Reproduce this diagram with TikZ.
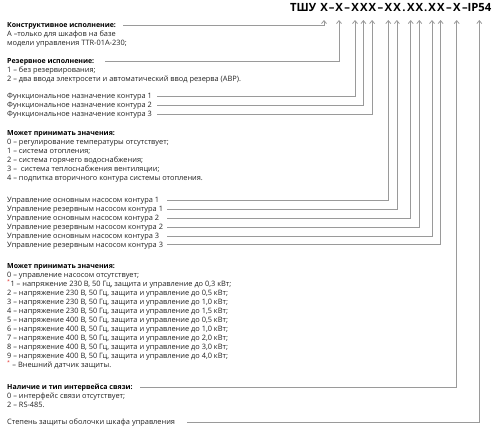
\documentclass[tikz,border=0pt]{standalone}
\usepackage{fontspec}
\setmainfont{Open Sans}
\usetikzlibrary{arrows.meta}
\definecolor{ln}{HTML}{9A9A9A}
\definecolor{tx}{HTML}{222222}
\definecolor{ast}{HTML}{E53935}
\newcommand\cbx[2]{\makebox[#1pt]{#2}}
\newcommand\rast{{\color{ast}\textsuperscript{*}}}
\begin{document}
\begin{tikzpicture}[x=1pt,y=-1pt,
 lbl/.style={anchor=base west,inner sep=0,font=\fontsize{7.4}{9}\selectfont,text=tx},
 hdr/.style={anchor=base west,inner sep=0,font=\fontsize{7.0}{9}\selectfont\bfseries,text=black},
 conn/.style={draw=ln,line width=0.8pt,-{Straight Barb[length=3pt,width=5pt]}}]
\useasboundingbox (0,0) rectangle (500,429);

% title
\node[anchor=base west,inner sep=0,font=\fontsize{11.3}{13}\selectfont\bfseries,text=black] (title) at (290,11.5)
 {\makebox[29.7pt][l]{ТШУ}\cbx{8.6}{X}\cbx{6.4}{–}\cbx{8.6}{X}\cbx{7.4}{–}\cbx{8.6}{X}\cbx{8.6}{X}\cbx{8.6}{X}\cbx{7.5}{–}\cbx{8.6}{X}\cbx{8.6}{X}\cbx{5.2}{.}\cbx{8.6}{X}\cbx{8.6}{X}\cbx{4.1}{.}\cbx{8.6}{X}\cbx{8.6}{X}\cbx{7.5}{–}\cbx{8.6}{X}\cbx{7.5}{–}\cbx{21.6}{IP54}};

% texts
\node[hdr] (h1) at (7,27.5) {Конструктивное исполнение:};
\node[lbl] (a1) at (7,36.6) {А –только для шкафов на базе};
\node[lbl] (a2) at (7,45.6) {модели управления TTR-01A-230;};

\node[hdr] (h2) at (7,63.5) {Резервное исполнение:};
\node[lbl] (b1) at (7,72.6) {1 – без резервирования;};
\node[lbl] (b2) at (7,81.6) {2 – два ввода электросети и автоматический ввод резерва (АВР).};

\node[lbl] (f1) at (7,98.6) {Функциональное назначение контура 1};
\node[lbl] (f2) at (7,107.6) {Функциональное назначение контура 2};
\node[lbl] (f3) at (7,116.6) {Функциональное назначение контура 3};

\node[hdr] (h3) at (7,135.0) {Может принимать значения:};
\node[lbl] (c0) at (7,144.1) {0 – регулирование температуры отсутствует;};
\node[lbl] (c1) at (7,153.1) {1 – система отопления;};
\node[lbl] (c2) at (7,162.1) {2 – система горячего водоснабжения;};
\node[lbl] (c3) at (7,171.1) {3 –\ \ система теплоснабжения вентиляции;};
\node[lbl] (c4) at (7,180.1) {4 – подпитка вторичного контура системы отопления.};

\node[lbl] (u1) at (7,202.6) {Управление основным насосом контура 1};
\node[lbl] (u2) at (7,211.6) {Управление резервным насосом контура 1};
\node[lbl] (u3) at (7,220.6) {Управление основным насосом контура 2};
\node[lbl] (u4) at (7,229.6) {Управление резервным насосом контура 2};
\node[lbl] (u5) at (7,238.6) {Управление основным насосом контура 3};
\node[lbl] (u6) at (7,247.1) {Управление резервным насосом контура 3};

\node[hdr] (h4) at (7,268.5) {Может принимать значения:};
\node[lbl] (p0) at (7,277.6) {0 – управление насосом отсутствует;};
\node[lbl] (p1) at (7,286.6) {\rast1 – напряжение 230 В, 50 Гц, защита и управление до 0,3 кВт;};
\node[lbl] (p2) at (7,295.6) {2 – напряжение 230 В, 50 Гц, защита и управление до 0,5 кВт;};
\node[lbl] (p3) at (7,304.6) {3 – напряжение 230 В, 50 Гц, защита и управление до 1,0 кВт;};
\node[lbl] (p4) at (7,313.6) {4 – напряжение 230 В, 50 Гц, защита и управление до 1,5 кВт;};
\node[lbl] (p5) at (7,322.6) {5 – напряжение 400 В, 50 Гц, защита и управление до 0,5 кВт;};
\node[lbl] (p6) at (7,331.6) {6 – напряжение 400 В, 50 Гц, защита и управление до 1,0 кВт;};
\node[lbl] (p7) at (7,340.6) {7 – напряжение 400 В, 50 Гц, защита и управление до 2,0 кВт;};
\node[lbl] (p8) at (7,349.6) {8 – напряжение 400 В, 50 Гц, защита и управление до 3,0 кВт;};
\node[lbl] (p9) at (7,358.6) {9 – напряжение 400 В, 50 Гц, защита и управление до 4,0 кВт;};
\node[lbl] (pa) at (7,367.6) {\rast\ – Внешний датчик защиты.};

\node[hdr] (h5) at (7,389.5) {Наличие и тип интервейса связи:};
\node[lbl] (i0) at (7,398.6) {0 – интерфейс связи отсутствует;};
\node[lbl] (i2) at (7,407.6) {2 – RS-485.};

\node[lbl] (st) at (7,424.6) {Степень защиты оболочки шкафа управления};

% connector ends
\coordinate (s1) at (123,25);   \coordinate (t1) at (324,20);
\coordinate (s2) at (105,61);   \coordinate (t2) at (339,20);
\coordinate (s3) at (157,96);   \coordinate (t3) at (355,20);
\coordinate (s4) at (157,105);  \coordinate (t4) at (363.4,20);
\coordinate (s5) at (157,114);  \coordinate (t5) at (372.1,20);
\coordinate (s6) at (167,200);  \coordinate (t6) at (388.3,20);
\coordinate (s7) at (167,209);  \coordinate (t7) at (396.9,20);
\coordinate (s8) at (167,218);  \coordinate (t8) at (410.7,20);
\coordinate (s9) at (167,227);  \coordinate (t9) at (419.3,20);
\coordinate (s10) at (167,236); \coordinate (t10) at (432,20);
\coordinate (s11) at (167,244.5); \coordinate (t11) at (440.6,20);
\coordinate (s12) at (140,387); \coordinate (t12) at (456.7,20);
\coordinate (s13) at (187,422); \coordinate (t13) at (479.3,20);

\foreach \i in {1,...,13} {\draw[conn] (s\i) -| (t\i);}
\end{tikzpicture}
\end{document}
